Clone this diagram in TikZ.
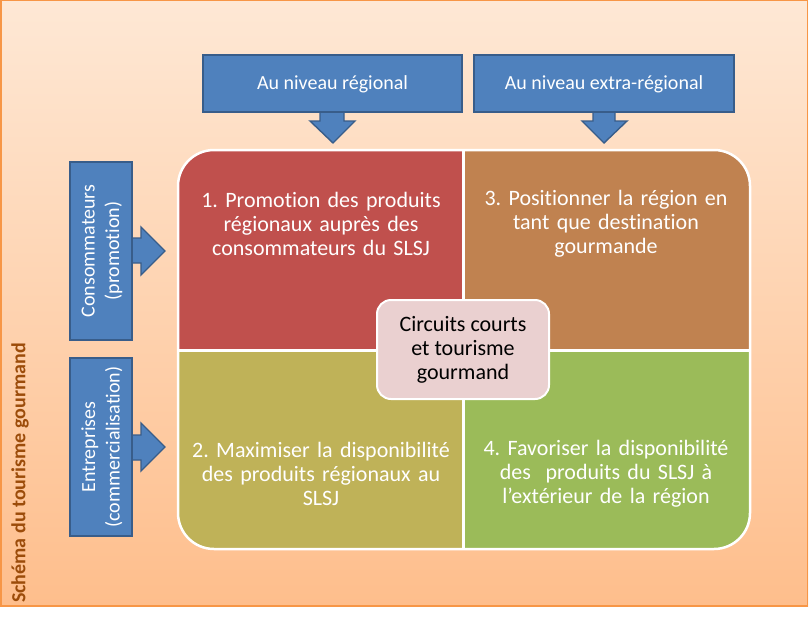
\documentclass[tikz,border=0pt]{standalone}
\usepackage{fontspec}
\setmainfont{Carlito}[Ligatures=NoCommon]
\frenchspacing
\begin{document}
\begin{tikzpicture}[x=1pt,y=-1pt,
  bluebox/.style={fill=blueF,draw=blueD,line width=1.4pt},
  qtext/.style={text=white,font=\fontsize{22}{24}\selectfont,align=center,text width=280pt,anchor=center},
  htext/.style={text=white,font=\fontsize{20}{24.5}\selectfont,align=center},
]
\definecolor{bgtop}{RGB}{254,232,213}
\definecolor{bgbot}{RGB}{254,190,140}
\definecolor{frameC}{RGB}{247,150,70}
\definecolor{titleC}{RGB}{156,76,10}
\definecolor{blueF}{RGB}{79,129,189}
\definecolor{blueD}{RGB}{56,93,138}
\definecolor{qred}{RGB}{192,80,77}
\definecolor{qbrown}{RGB}{192,130,80}
\definecolor{qolive}{RGB}{191,178,88}
\definecolor{qgreen}{RGB}{155,187,89}
\definecolor{centerF}{RGB}{234,208,208}
\useasboundingbox (0,0) rectangle (810,618);
% background frame
\shade[top color=bgtop,bottom color=bgbot] (0,0) rectangle (808,606);
\draw[frameC,line width=1.5pt] (0.75,0.75) rectangle (807.5,606);
% title
\node[rotate=90,text=titleC,font=\fontsize{20}{24}\selectfont\bfseries] (title) at (20,473) {Schéma du tourisme gourmand};
% top arrows
\fill[bluebox] (320,105) -- (344,105) -- (344,121) -- (355,121) -- (333,143) -- (310,121) -- (320,121) -- cycle;
\fill[bluebox] (593,105) -- (615,105) -- (615,121) -- (627,121) -- (604,143) -- (582,121) -- (593,121) -- cycle;
\draw[bluebox] (203,55) rectangle (462,112);
\draw[bluebox] (474,55) rectangle (734,112);
\node[htext] (reg) at (332.5,84) {Au niveau régional};
\node[htext] (ext) at (604,84) {Au niveau extra-régional};
% left arrows
\fill[bluebox] (125,238) -- (141,238) -- (141,227) -- (165,251) -- (141,275) -- (141,263) -- (125,263) -- cycle;
\fill[bluebox] (125,435) -- (141,435) -- (141,423) -- (165,447) -- (141,471) -- (141,460) -- (125,460) -- cycle;
\draw[bluebox] (70,162) rectangle (132,340);
\draw[bluebox] (70,358) rectangle (132,536);
\node[htext,rotate=90] (cons) at (102,251) {Consommateurs\\(promotion)};
\node[htext,rotate=90] (entr) at (102,447) {Entreprises\\(commercialisation)};
% matrix
\begin{scope}
\clip[rounded corners=36pt] (178,150) rectangle (750,549);
\fill[qred] (178,150) rectangle (463,350);
\fill[qbrown] (463,150) rectangle (750,350);
\fill[qolive] (178,350) rectangle (463,549);
\fill[qgreen] (463,350) rectangle (750,549);
\end{scope}
\draw[white,line width=3pt] (463,150) -- (463,549);
\draw[white,line width=3pt] (178,350) -- (750,350);
\draw[white,line width=2.5pt,rounded corners=36pt] (178,150) rectangle (750,549);
\node[qtext] (q1) at (321,224) {1. Promotion des produits\\régionaux auprès des\\consommateurs du SLSJ};
\node[qtext] (q3) at (606,224) {3. Positionner la région en\\tant que destination\\gourmande};
\node[qtext] (q2) at (321,474) {2. Maximiser la disponibilité\\des produits régionaux au\\SLSJ};
\node[qtext] (q4) at (606,474) {4. Favoriser la disponibilité\\des~ produits du SLSJ à\\l’extérieur de la région};
% center
\draw[fill=centerF,draw=white,line width=2pt,rounded corners=14pt] (377,300) rectangle (549,399);
\node[font=\fontsize{22}{24}\selectfont,align=center,text=black] (ctr) at (463,350) {Circuits courts\\et tourisme\\gourmand};
\end{tikzpicture}
\end{document}
